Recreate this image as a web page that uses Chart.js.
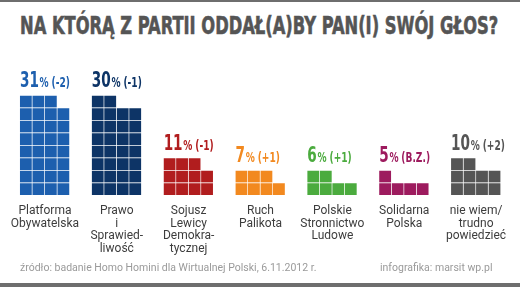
<!DOCTYPE html>
<html>
<head>
<meta charset="utf-8">
<script src="https://cdn.jsdelivr.net/npm/chart.js@4"></script>
<style>
    body { margin: 0; background: #fff; }
    #wrap { position: relative; width: 520px; height: 287px; overflow: hidden; background: #fff; }
    #wrap:before, #wrap:after { content: ''; position: absolute; left: 0; right: 0; background: #6e6e6e; }
    #wrap:before { top: 0; height: 2px; }
    #wrap:after { bottom: 0; height: 4px; }
    #title {
        position: absolute; left: 20px; top: 11px; white-space: nowrap;
        font-family: "DejaVu Sans Condensed", "DejaVu Sans"; font-weight: bold;
        font-size: 25px; color: #555; transform-origin: 0 0;
        -webkit-text-stroke: 0.6px #555;
    }
    .foot { position: absolute; top: 261px; font-family: Roboto, sans-serif; font-size: 10.5px; color: #9a9a9a; white-space: nowrap; }
    #source { left: 20px; }
    #credit { left: 380px; }
    canvas { position: absolute; left: 0; top: 0; }
</style>
</head>
<body>
<div id="wrap">
    <div id="title">NA KTÓRĄ Z PARTII ODDAŁ(A)BY PAN(I) SWÓJ GŁOS?</div>
    <canvas id="chart" width="520" height="287"></canvas>
    <div class="foot" id="source">źródło: badanie Homo Homini dla Wirtualnej Polski, 6.11.2012 r.</div>
    <div class="foot" id="credit">infografika: marsit wp.pl</div>
</div>
<script>
const categories = [
    ['Platforma', 'Obywatelska'],
    ['Prawo', 'i', 'Sprawied-', 'liwość'],
    ['Sojusz', 'Lewicy', 'Demokra-', 'tycznej'],
    ['Ruch', 'Palikota'],
    ['Polskie', 'Stronnictwo', 'Ludowe'],
    ['Solidarna', 'Polska'],
    ['nie wiem/', 'trudno', 'powiedzieć']
];
const values = [31, 30, 11, 7, 6, 5, 10];
const changes = ['(-2)', '(-1)', '(-1)', '(+1)', '(+1)', '(B.Z.)', '(+2)'];
const colors = ['#1d5fae', '#0d3466', '#b11d1e', '#f2891f', '#4bab3e', '#9d1b5e', '#555555'];

const TILES_PER_ROW = 4;
const GROUP_STEP = 5.75;

// fit title to its width
const title = document.getElementById('title');
title.style.transform = `scaleX(${478 / title.scrollWidth})`;

// one floating bar per tile, rows filled left to right from the bottom
const tiles = [];
values.forEach((v, i) => {
    for (let k = 0; k < v; k++) {
        const row = Math.floor(k / TILES_PER_ROW);
        const col = k % TILES_PER_ROW;
        tiles.push({ x: i * GROUP_STEP + col + 0.5, y: [row, row + 1], cat: i });
    }
});

const valueLabels = {
    id: 'valueLabels',
    afterDatasetsDraw(chart) {
        const ctx = chart.ctx;
        const xs = chart.scales.x;
        const ys = chart.scales.y;
        values.forEach((v, i) => {
            const left = xs.getPixelForValue(i * GROUP_STEP);
            const top = ys.getPixelForValue(Math.ceil(v / TILES_PER_ROW));
            ctx.save();
            ctx.translate(left, top - 8);
            ctx.scale(0.72, 1);
            ctx.fillStyle = colors[i];
            ctx.textBaseline = 'alphabetic';
            ctx.font = 'bold 21px "DejaVu Sans Condensed"';
            ctx.fillText(String(v), 0, 0);
            let w = ctx.measureText(String(v)).width + 1;
            ctx.font = 'bold 14px "DejaVu Sans Condensed"';
            ctx.fillText('%', w, 0);
            w += ctx.measureText('%').width + 4;
            ctx.fillText(changes[i], w, 0);
            ctx.restore();
        });
    }
};

new Chart(document.getElementById('chart'), {
    type: 'bar',
    data: {
        datasets: [{
            xAxisID: 'x',
            yAxisID: 'y',
            data: tiles,
            backgroundColor: c => colors[c.raw ? c.raw.cat : 0],
            borderColor: '#ffffff',
            borderWidth: { top: 1, right: 1, left: 0, bottom: 0 },
            borderSkipped: false,
            barPercentage: 1,
            categoryPercentage: 1
        }]
    },
    options: {
        responsive: false,
        animation: false,
        layout: { padding: { top: 70, left: 9, right: 8, bottom: 32 } },
        plugins: { legend: { display: false }, tooltip: { enabled: false } },
        scales: {
            x: {
                type: 'linear',
                display: false,
                offset: false,
                grid: { offset: false },
                min: 2 - GROUP_STEP / 2,
                max: 2 - GROUP_STEP / 2 + categories.length * GROUP_STEP
            },
            y: { display: false, min: 0, max: 10 },
            cat: {
                type: 'category',
                position: 'bottom',
                labels: categories,
                offset: true,
                grid: { display: false, drawTicks: false },
                border: { display: false },
                ticks: {
                    color: '#3d3d3d',
                    padding: 10,
                    maxRotation: 0,
                    autoSkip: false,
                    font: { family: 'Roboto', size: 12, lineHeight: 1.04 }
                },
                afterFit: s => { s.height = 60; }
            }
        }
    },
    plugins: [valueLabels]
});
</script>
</body>
</html>
